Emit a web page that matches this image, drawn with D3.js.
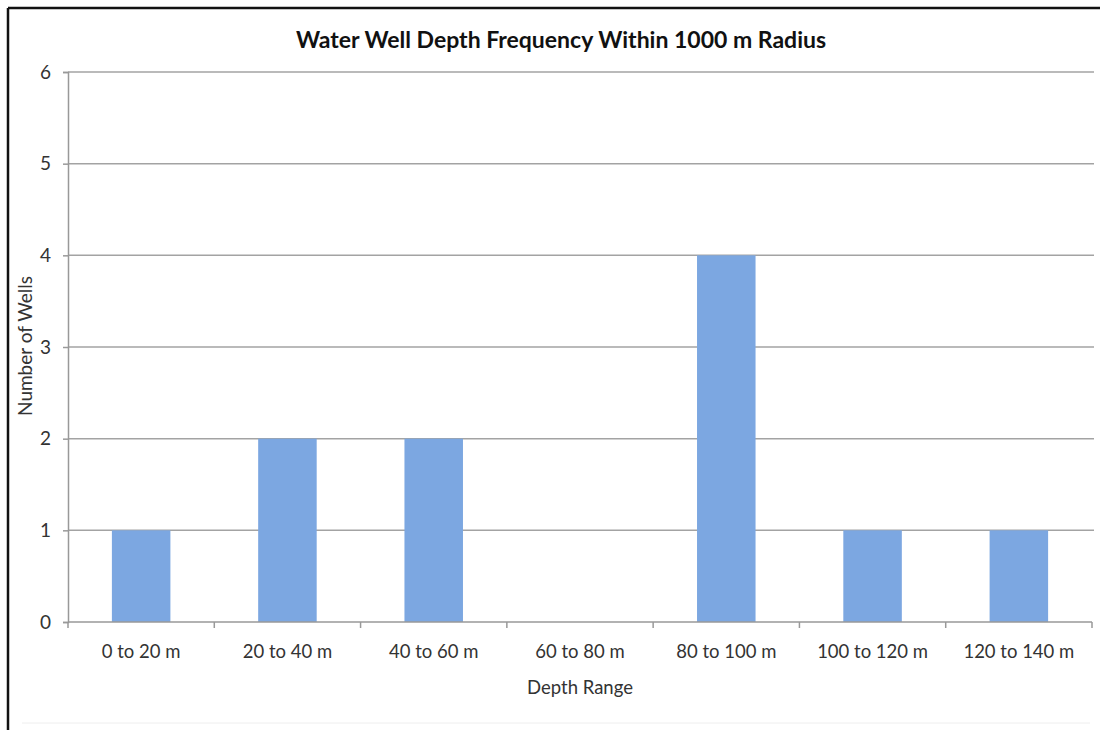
<!DOCTYPE html>
<html>
<head>
<meta charset="utf-8">
<script src="https://cdn.jsdelivr.net/npm/d3@7"></script>
<style>
  body { margin: 0; background: #fff; }
  text { font-family: Lato, "Open Sans", sans-serif; fill: #333; }
</style>
</head>
<body>
<svg id="chart" width="1100" height="730"></svg>
<script>
// depth bins and well counts
var categories = ["0 to 20 m", "20 to 40 m", "40 to 60 m", "60 to 80 m", "80 to 100 m", "100 to 120 m", "120 to 140 m"];
var counts = [1, 2, 2, 0, 4, 1, 1];
var yTicks = [0, 1, 2, 3, 4, 5, 6];

var titleText = "Water Well Depth Frequency Within 1000 m Radius";
var xTitle = "Depth Range";
var yTitle = "Number of Wells";

// plot area (not "top": that one is taken by window.top)
var plotLeft = 68, plotRight = 1092;
var plotTop = 72, plotBottom = 622;

var svg = d3.select("#chart");

// outer frame (left and top edges only, rest is cut off)
svg.append("line").attr("x1", 8).attr("y1", 8).attr("x2", 1100).attr("y2", 8)
   .attr("stroke", "#111").attr("stroke-width", 2.5);
svg.append("line").attr("x1", 8).attr("y1", 8).attr("x2", 8).attr("y2", 730)
   .attr("stroke", "#111").attr("stroke-width", 2.5);
// faint chart area border at the bottom
svg.append("line").attr("x1", 22).attr("y1", 723).attr("x2", 1090).attr("y2", 723)
   .attr("stroke", "#eee").attr("stroke-width", 1);

var x = d3.scaleBand().domain(categories).range([plotLeft, plotRight]).paddingInner(0.6).paddingOuter(0.3);
var xBand = d3.scaleBand().domain(categories).range([plotLeft, plotRight]);
var y = d3.scaleLinear().domain([0, 6]).range([plotBottom, plotTop]);

// gridlines
svg.append("g").selectAll("line")
   .data(yTicks.filter(function(d) { return d > 0; }))
   .enter().append("line")
   .attr("x1", plotLeft).attr("x2", plotRight + 2)
   .attr("y1", function(d) { return y(d); })
   .attr("y2", function(d) { return y(d); })
   .attr("stroke", "#a3a3a3").attr("stroke-width", 1.5);

// bars
svg.append("g").selectAll("rect")
   .data(counts)
   .enter().append("rect")
   .attr("x", function(d, i) { return x(categories[i]); })
   .attr("width", x.bandwidth())
   .attr("y", function(d) { return y(d); })
   .attr("height", function(d) { return y(0) - y(d); })
   .attr("fill", "#7ca7e1");

// y axis
var yAxis = svg.append("g")
   .attr("transform", "translate(" + plotLeft + ",0)")
   .call(d3.axisLeft(y).tickValues(yTicks).tickFormat(d3.format("d")).tickSize(5).tickPadding(12));
yAxis.select(".domain").attr("stroke", "#999").attr("stroke-width", 1.5);
yAxis.selectAll(".tick line").attr("stroke", "#999").attr("stroke-width", 1.5);
yAxis.selectAll(".tick text").style("font-size", "19px").style("fill", "#333")
   .style("font-family", "Lato, sans-serif");

// x axis, ticks sit between categories
var xAxis = svg.append("g").attr("transform", "translate(0," + plotBottom + ")");
xAxis.append("line").attr("x1", plotLeft).attr("x2", plotRight).attr("y1", 0).attr("y2", 0)
   .attr("stroke", "#999").attr("stroke-width", 1.5);
xAxis.selectAll("line.tk")
   .data(categories.concat(["end"]))
   .enter().append("line").attr("class", "tk")
   .attr("x1", function(d, i) { return plotLeft + i * xBand.bandwidth(); })
   .attr("x2", function(d, i) { return plotLeft + i * xBand.bandwidth(); })
   .attr("y1", 0).attr("y2", 6)
   .attr("stroke", "#999").attr("stroke-width", 1.5);
xAxis.selectAll("text")
   .data(categories)
   .enter().append("text")
   .attr("x", function(d) { return xBand(d) + xBand.bandwidth() / 2; })
   .attr("y", 36)
   .attr("text-anchor", "middle")
   .style("font-size", "18.5px")
   .text(function(d) { return d; });

// titles
svg.append("text").attr("x", 561).attr("y", 48).attr("text-anchor", "middle")
   .style("font-size", "23px").style("font-weight", "bold").style("fill", "#111")
   .text(titleText);
svg.append("text").attr("x", 580).attr("y", 694).attr("text-anchor", "middle")
   .style("font-size", "18.5px").text(xTitle);
svg.append("text").attr("transform", "translate(32,346) rotate(-90)")
   .attr("text-anchor", "middle").style("font-size", "19px").text(yTitle);
</script>
</body>
</html>
